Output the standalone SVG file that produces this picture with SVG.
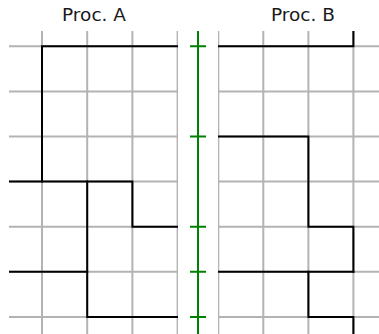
<svg xmlns="http://www.w3.org/2000/svg" width="379" height="334" viewBox="0 0 379 334">
<style>
.grid{stroke:#b3b3b3;stroke-width:2;fill:none}
.path{stroke:#000;stroke-width:2;fill:none;stroke-linejoin:miter;stroke-linecap:square}
.lbl{font-family:"DejaVu Sans",sans-serif;font-size:18.5px;fill:#1a1a1a;text-anchor:middle}
.time{stroke:#008000;stroke-width:2;fill:none}
</style>
<defs>
<clipPath id="clipA"><rect x="9" y="31" width="169" height="303"/></clipPath>
<clipPath id="clipB"><rect x="218" y="31" width="161" height="303"/></clipPath>
</defs>
<rect width="379" height="334" fill="#fff"/>
<g id="procA">
<text class="lbl" x="94" y="20.5">Proc. A</text>
<g clip-path="url(#clipA)">
<path class="grid" d="M42,0V334M87.2,0V334M132.4,0V334M177.6,0V334M0,46.3H180M0,91.4H180M0,136.5H180M0,181.6H180M0,226.7H180M0,271.8H180M0,316.9H180"/>
<path class="path" d="M177.6,46.3H42V181.6"/>
<path class="path" d="M0,181.6H132.4V226.7H177.6"/>
<path class="path" d="M87.2,181.6V316.9H177.6"/>
<path class="path" d="M0,271.8H87.2"/>
</g>
</g>
<g id="procB">
<text class="lbl" x="303" y="20.5">Proc. B</text>
<g clip-path="url(#clipB)">
<path class="grid" d="M218.3,0V334M263.3,0V334M308.4,0V334M353.4,0V334M210,46.3H379M210,91.4H379M210,136.5H379M210,181.6H379M210,226.7H379M210,271.8H379M210,316.9H379"/>
<path class="path" d="M216,46.3H353.4V20"/>
<path class="path" d="M216,136.5H308.4V226.7H353.4V271.8"/>
<path class="path" d="M216,271.8H353.4"/>
<path class="path" d="M308.4,271.8V316.9H353.4V340"/>
</g>
</g>
<g id="timeline">
<path class="time" d="M198,31V334M190,46.3H206M190,136.5H206M190,226.7H206M190,271.8H206M190,316.9H206"/>
</g>
</svg>
